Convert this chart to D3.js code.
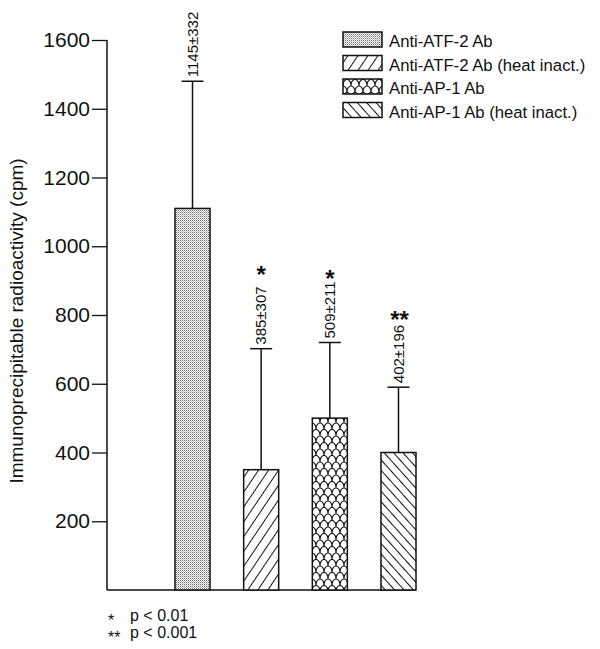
<!DOCTYPE html>
<html>
<head>
<meta charset="utf-8">
<script src="https://cdnjs.cloudflare.com/ajax/libs/d3/7.8.5/d3.min.js"></script>
<style>
  body { margin: 0; background: #fff; }
  text { font-family: "Liberation Sans", Arial, Helvetica, sans-serif; fill: #111; }
</style>
</head>
<body>
<div id="chart"></div>
<script>
// Data
const groups = ["Anti-ATF-2 Ab", "Anti-ATF-2 Ab (heat inact.)", "Anti-AP-1 Ab", "Anti-AP-1 Ab (heat inact.)"];
const means = [1110, 350, 500, 400];
const errors = [370, 352, 220, 190];
const valueLabels = ["1145\u00b1332", "385\u00b1307", "509\u00b1211", "402\u00b1196"];
const stars = ["", "*", "*", "**"];
const yTicks = [200, 400, 600, 800, 1000, 1200, 1400, 1600];
const patterns = ["stipple", "hatchFwd", "scales", "hatchBack"];
const footnotes = [["*", "p < 0.01"], ["**", "p < 0.001"]];

const width = 600, height = 649;

const svg = d3.select("#chart")
    .append("svg")
    .attr("width", width)
    .attr("height", height);

// Fill patterns
const defs = svg.append("defs");

const stipple = defs.append("pattern")
    .attr("id", "stipple")
    .attr("patternUnits", "userSpaceOnUse")
    .attr("width", 2).attr("height", 2);
stipple.append("rect").attr("width", 2).attr("height", 2).attr("fill", "#fff");
stipple.append("rect").attr("width", 1).attr("height", 1).attr("fill", "#6a6a6a");
stipple.append("rect").attr("x", 1).attr("y", 1).attr("width", 1).attr("height", 1).attr("fill", "#bbb");

function hatch(id, angle, spacing) {
    const p = defs.append("pattern")
        .attr("id", id)
        .attr("patternUnits", "userSpaceOnUse")
        .attr("width", spacing).attr("height", 10)
        .attr("patternTransform", `rotate(${angle})`);
    p.append("rect").attr("width", spacing).attr("height", 10).attr("fill", "#fff");
    p.append("line")
        .attr("x1", spacing / 2).attr("x2", spacing / 2)
        .attr("y1", 0).attr("y2", 10)
        .attr("stroke", "#111").attr("stroke-width", 1);
}
hatch("hatchFwd", 34, 8.3);
hatch("hatchBack", -42, 7);

const scales = defs.append("pattern")
    .attr("id", "scales")
    .attr("patternUnits", "userSpaceOnUse")
    .attr("width", 8).attr("height", 13);
scales.append("rect").attr("width", 8).attr("height", 13).attr("fill", "#fff");
scales.append("path")
    .attr("d", "M0,6.5 A4,6 0 0,1 8,6.5 M-4,13 A4,6 0 0,1 4,13 M4,13 A4,6 0 0,1 12,13 M-4,0 A4,6 0 0,1 4,0 M4,0 A4,6 0 0,1 12,0")
    .attr("fill", "none")
    .attr("stroke", "#111")
    .attr("stroke-width", 1.2);

// Scales
const x = d3.scaleBand()
    .domain(groups)
    .range([175, 416])
    .paddingInner(0.49)
    .paddingOuter(0);

const y = d3.scaleLinear()
    .domain([0, 1600])
    .range([590, 40]);

const axisLeft = 107;

// Y axis
const yAxis = svg.append("g")
    .attr("transform", `translate(${axisLeft},0)`)
    .call(d3.axisLeft(y).tickValues(yTicks).tickSize(15).tickPadding(2).tickFormat(d3.format("d")));
yAxis.select(".domain").remove();
yAxis.selectAll(".tick line").attr("stroke", "#111").attr("stroke-width", 1.3);
yAxis.selectAll(".tick text")
    .style("font-size", "21px")
    .style("font-family", "'Liberation Sans', Arial, sans-serif")
    .attr("fill", "#111");

svg.append("line")
    .attr("x1", axisLeft).attr("x2", axisLeft)
    .attr("y1", y(1600)).attr("y2", y(0))
    .attr("stroke", "#111").attr("stroke-width", 1.5);

// X axis baseline
svg.append("line")
    .attr("x1", axisLeft).attr("x2", x(groups[groups.length - 1]) + x.bandwidth())
    .attr("y1", y(0)).attr("y2", y(0))
    .attr("stroke", "#111").attr("stroke-width", 1.5);

// Y axis title
svg.append("text")
    .attr("transform", `translate(23,${(y(0) + y(1600)) / 2 + 6}) rotate(-90)`)
    .attr("text-anchor", "middle")
    .style("font-size", "19px")
    .text("Immunoprecipitable radioactivity (cpm)");

// Error bars (upper only)
const capW = 22;
const err = svg.append("g").attr("stroke", "#111").attr("stroke-width", 1.5);
groups.forEach((g, i) => {
    const cx = x(g) + x.bandwidth() / 2;
    err.append("line")
        .attr("x1", cx).attr("x2", cx)
        .attr("y1", y(means[i])).attr("y2", y(means[i] + errors[i]));
    err.append("line")
        .attr("x1", cx - capW / 2).attr("x2", cx + capW / 2)
        .attr("y1", y(means[i] + errors[i])).attr("y2", y(means[i] + errors[i]));
});

// Bars
svg.append("g")
    .selectAll("rect")
    .data(groups)
    .join("rect")
    .attr("x", d => x(d))
    .attr("y", (d, i) => y(means[i]))
    .attr("width", x.bandwidth())
    .attr("height", (d, i) => y(0) - y(means[i]))
    .attr("fill", (d, i) => `url(#${patterns[i]})`)
    .attr("stroke", "#111")
    .attr("stroke-width", 1.5);

// Value labels (rotated) and significance stars
groups.forEach((g, i) => {
    const cx = x(g) + x.bandwidth() / 2;
    const top = y(means[i] + errors[i]) - 4;
    const label = svg.append("text")
        .attr("transform", `translate(${cx},${top}) rotate(-90)`)
        .attr("dy", "0.35em")
        .style("font-size", "15px")
        .text(valueLabels[i]);
    if (!stars[i]) return;
    const end = top - label.node().getComputedTextLength();
    const gap = i === 1 ? 17 : i === 2 ? 8 : 11;
    svg.append("text")
        .attr("x", cx + (i === 3 ? 1 : 0))
        .attr("y", end - gap + 14)
        .attr("text-anchor", "middle")
        .style("font-size", "24px")
        .style("font-weight", "bold")
        .text(stars[i]);
});

// Legend
const legend = svg.append("g").attr("transform", "translate(343,32)");
groups.forEach((g, i) => {
    const row = legend.append("g").attr("transform", `translate(0,${i * 23.5})`);
    row.append("rect")
        .attr("width", 39).attr("height", 15)
        .attr("fill", `url(#${patterns[i]})`)
        .attr("stroke", "#111").attr("stroke-width", 1.5);
    row.append("text")
        .attr("x", 46).attr("y", 15)
        .style("font-size", "16.7px")
        .text(g);
});

// Footnotes
footnotes.forEach((f, i) => {
    svg.append("text")
        .attr("x", 108).attr("y", 626 + i * 17)
        .style("font-size", "16px")
        .text(f[0]);
    svg.append("text")
        .attr("x", 130).attr("y", 621 + i * 17)
        .style("font-size", "16px")
        .text(f[1]);
});
</script>
</body>
</html>
